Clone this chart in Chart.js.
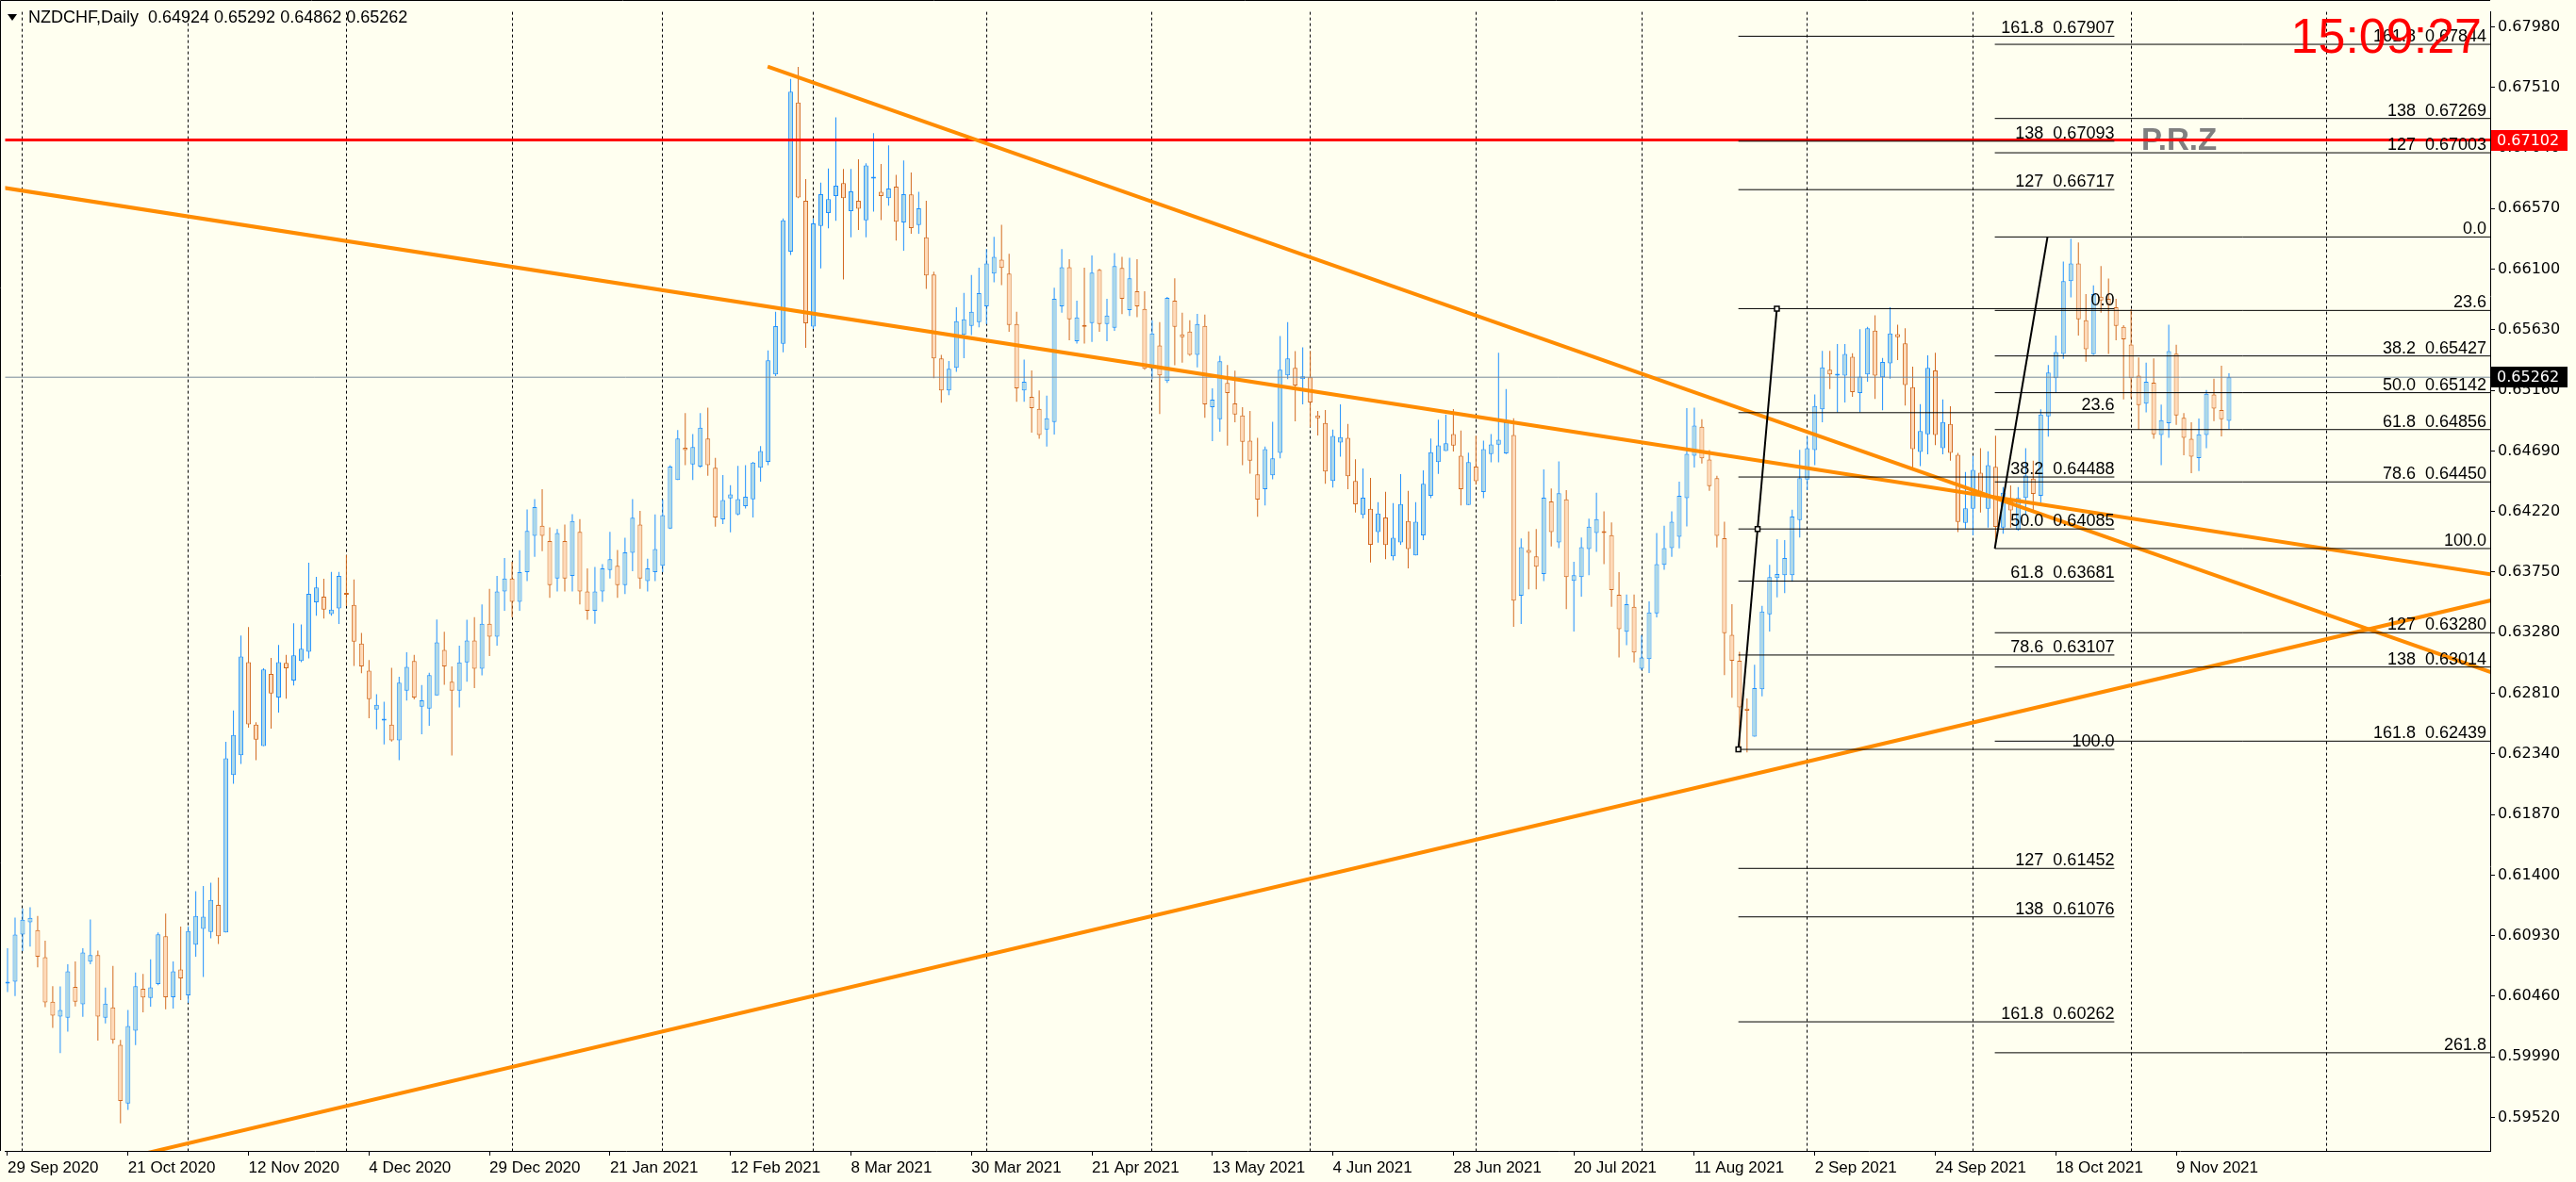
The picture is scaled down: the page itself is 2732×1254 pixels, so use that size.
<!DOCTYPE html>
<html>
<head>
<meta charset="utf-8">
<script src="https://cdn.jsdelivr.net/npm/chart.js@4.4.1/dist/chart.umd.min.js"></script>
<style>
html, body { margin: 0; padding: 0; background: #fffff0; }
#wrap { width: 2732px; height: 1254px; }
</style>
</head>
<body>
<div id="wrap"><canvas id="chart" width="2732" height="1254"></canvas></div>
<script>
// NZDCHF daily candles, bar 0 = 29 Sep 2020
var opens = [
  0.60559, 0.60574, 0.60938, 0.61033, 0.60973, 0.60764, 0.60418, 0.60303, 0.60294, 0.60533,
  0.60397, 0.60728, 0.60779, 0.60294, 0.60374, 0.60084, 0.59629, 0.60193, 0.60518, 0.60447,
  0.60554, 0.60926, 0.60453, 0.60669, 0.60468, 0.60861, 0.60982, 0.60959, 0.61169, 0.60955,
  0.62176, 0.62330, 0.63052, 0.62567, 0.62401, 0.62960, 0.62777, 0.63046, 0.62910, 0.63061,
  0.63132, 0.63516, 0.63560, 0.63424, 0.63468, 0.63590, 0.63495, 0.63196, 0.62986, 0.62685,
  0.62599, 0.62567, 0.62445, 0.62830, 0.63061, 0.62706, 0.62691, 0.62794, 0.63146, 0.62900,
  0.62830, 0.63050, 0.63220, 0.63000, 0.63350, 0.63250, 0.63600, 0.63700, 0.63520, 0.63750,
  0.64032, 0.64110, 0.63991, 0.63700, 0.63991, 0.63720, 0.64063, 0.63600, 0.63450, 0.63600,
  0.63766, 0.63799, 0.63650, 0.63900, 0.64120, 0.63680, 0.63750, 0.63800, 0.64089, 0.64464,
  0.64715, 0.64586, 0.64568, 0.64787, 0.64560, 0.64159, 0.64322, 0.64198, 0.64262, 0.64314,
  0.64560, 0.64606, 0.65284, 0.65522, 0.66236, 0.67392, 0.66631, 0.65654, 0.66435, 0.66536,
  0.66668, 0.66768, 0.66551, 0.66631, 0.66479, 0.66802, 0.66701, 0.66650, 0.66740, 0.66463,
  0.66680, 0.66442, 0.66348, 0.66058, 0.65407, 0.65160, 0.65334, 0.65590, 0.65660, 0.65689,
  0.65812, 0.66066, 0.66174, 0.66066, 0.65675, 0.65160, 0.65110, 0.65016, 0.64856, 0.64914,
  0.65812, 0.66116, 0.65542, 0.65660, 0.65682, 0.66095, 0.65675, 0.65646, 0.66109, 0.65783,
  0.65928, 0.65791, 0.65327, 0.65508, 0.65233, 0.65856, 0.65595, 0.65617, 0.65436, 0.65660,
  0.65030, 0.64936, 0.65218, 0.65059, 0.64965, 0.64769, 0.64509, 0.64393, 0.64501, 0.64675,
  0.65276, 0.65334, 0.65247, 0.65262, 0.64965, 0.64907, 0.64458, 0.64755, 0.64791, 0.64458,
  0.64195, 0.64242, 0.64061, 0.64174, 0.63872, 0.63980, 0.64146, 0.63880, 0.64035, 0.64342,
  0.64604, 0.64689, 0.64821, 0.64653, 0.64270, 0.64568, 0.64371, 0.64666, 0.64738, 0.64671,
  0.64813, 0.63567, 0.63921, 0.63872, 0.63735, 0.64299, 0.63980, 0.64314, 0.63683, 0.63712,
  0.63929, 0.64053, 0.64063, 0.64037, 0.63574, 0.63287, 0.63481, 0.63000, 0.63075, 0.63430,
  0.63807, 0.63936, 0.64024, 0.64324, 0.64653, 0.64878, 0.64624, 0.64480, 0.64014, 0.63264,
  0.63062, 0.62692, 0.62475, 0.62842, 0.63422, 0.63704, 0.63727, 0.63727, 0.64154, 0.64469,
  0.64697, 0.65013, 0.65320, 0.65274, 0.65274, 0.65421, 0.65139, 0.65284, 0.65624, 0.65262,
  0.65370, 0.65597, 0.65525, 0.65185, 0.64683, 0.64820, 0.65315, 0.64711, 0.64900, 0.64661,
  0.64132, 0.64241, 0.64521, 0.64241, 0.64567, 0.64096, 0.64301, 0.64077, 0.64325, 0.64475,
  0.64342, 0.64958, 0.65255, 0.65443, 0.66008, 0.66145, 0.65704, 0.65440, 0.65887, 0.65870,
  0.65805, 0.65653, 0.65515, 0.65274, 0.65057, 0.65219, 0.64813, 0.64905, 0.65445, 0.64948,
  0.64784, 0.64634, 0.64813, 0.65129, 0.65008, 0.64924
];
var highs = [
  0.60832, 0.61071, 0.61142, 0.61151, 0.61083, 0.60891, 0.60539, 0.60536, 0.60708, 0.60731,
  0.60832, 0.61056, 0.60814, 0.60527, 0.60696, 0.60122, 0.60353, 0.60645, 0.60634, 0.60746,
  0.60955, 0.61101, 0.60731, 0.61000, 0.61003, 0.61275, 0.61316, 0.61340, 0.61381, 0.62434,
  0.62677, 0.63259, 0.63324, 0.62585, 0.63004, 0.63084, 0.63185, 0.63108, 0.63353, 0.63344,
  0.63823, 0.63714, 0.63699, 0.63752, 0.63752, 0.63882, 0.63693, 0.63279, 0.63069, 0.62803,
  0.62744, 0.63007, 0.62939, 0.63128, 0.63108, 0.62874, 0.62969, 0.63383, 0.63288, 0.63019,
  0.63180, 0.63380, 0.63400, 0.63500, 0.63620, 0.63720, 0.63860, 0.63830, 0.63920, 0.64236,
  0.64317, 0.64394, 0.64097, 0.64084, 0.64120, 0.64200, 0.64161, 0.63780, 0.63790, 0.63812,
  0.64063, 0.63921, 0.64016, 0.64317, 0.64226, 0.63854, 0.64198, 0.64314, 0.64580, 0.64852,
  0.64984, 0.64821, 0.64984, 0.65025, 0.64637, 0.64503, 0.64425, 0.64575, 0.64580, 0.64606,
  0.64728, 0.65470, 0.65770, 0.66494, 0.67575, 0.67669, 0.66799, 0.66494, 0.66771, 0.66882,
  0.67278, 0.66877, 0.66877, 0.66952, 0.66921, 0.67156, 0.66916, 0.67061, 0.66831, 0.66944,
  0.66850, 0.66700, 0.66631, 0.66080, 0.65436, 0.65387, 0.65805, 0.65916, 0.66054, 0.66112,
  0.66256, 0.66351, 0.66445, 0.66220, 0.65769, 0.65399, 0.65315, 0.65160, 0.65119, 0.65957,
  0.66256, 0.66177, 0.65856, 0.66112, 0.66206, 0.66102, 0.65870, 0.66225, 0.66196, 0.66189,
  0.66177, 0.65928, 0.65704, 0.65689, 0.65885, 0.66029, 0.65762, 0.65704, 0.65754, 0.65747,
  0.65175, 0.65428, 0.65356, 0.65312, 0.65030, 0.65001, 0.64791, 0.64724, 0.64917, 0.65581,
  0.65689, 0.65465, 0.65494, 0.65465, 0.65001, 0.65008, 0.64856, 0.65052, 0.64900, 0.64625,
  0.64555, 0.64482, 0.64293, 0.64374, 0.64286, 0.64511, 0.64381, 0.64293, 0.64539, 0.64787,
  0.64932, 0.64971, 0.65015, 0.64849, 0.64676, 0.64808, 0.64769, 0.64821, 0.65452, 0.65170,
  0.64943, 0.64011, 0.64066, 0.64084, 0.64547, 0.64399, 0.64609, 0.64386, 0.63830, 0.64019,
  0.64164, 0.64366, 0.64221, 0.64136, 0.63750, 0.63577, 0.63577, 0.63261, 0.63523, 0.64053,
  0.64110, 0.64221, 0.64451, 0.65023, 0.65025, 0.64937, 0.64697, 0.64498, 0.64141, 0.63502,
  0.63132, 0.62770, 0.63031, 0.63489, 0.63807, 0.64006, 0.63999, 0.64234, 0.64699, 0.64803,
  0.65129, 0.65467, 0.65467, 0.65520, 0.65520, 0.65448, 0.65634, 0.65653, 0.65742, 0.65412,
  0.65805, 0.65670, 0.65641, 0.65344, 0.65054, 0.65431, 0.65452, 0.65090, 0.65037, 0.64675,
  0.64526, 0.64651, 0.64711, 0.64687, 0.64808, 0.64410, 0.64422, 0.64410, 0.64711, 0.64615,
  0.65013, 0.65356, 0.65585, 0.66160, 0.66336, 0.66307, 0.65906, 0.65974, 0.66124, 0.66027,
  0.65870, 0.65665, 0.65790, 0.65416, 0.65375, 0.65407, 0.65049, 0.65670, 0.65513, 0.64984,
  0.64912, 0.64941, 0.65163, 0.65250, 0.65351, 0.65292
];
var lows = [
  0.60492, 0.60462, 0.60811, 0.60846, 0.60684, 0.60376, 0.60214, 0.60019, 0.60185, 0.60382,
  0.60300, 0.60708, 0.60116, 0.60250, 0.60093, 0.59475, 0.59578, 0.60081, 0.60335, 0.60379,
  0.60545, 0.60359, 0.60365, 0.60430, 0.60409, 0.60766, 0.60610, 0.60909, 0.60866, 0.60955,
  0.62108, 0.62262, 0.62543, 0.62292, 0.62401, 0.62537, 0.62661, 0.62768, 0.62871, 0.63052,
  0.63081, 0.63412, 0.63389, 0.63412, 0.63348, 0.63486, 0.63022, 0.62966, 0.62617, 0.62531,
  0.62413, 0.62436, 0.62292, 0.62753, 0.62762, 0.62493, 0.62558, 0.62794, 0.62877, 0.62327,
  0.62700, 0.62900, 0.62850, 0.62950, 0.63100, 0.63180, 0.63450, 0.63400, 0.63450, 0.63680,
  0.63869, 0.63913, 0.63550, 0.63600, 0.63600, 0.63600, 0.63500, 0.63380, 0.63350, 0.63520,
  0.63700, 0.63550, 0.63580, 0.63758, 0.63620, 0.63600, 0.63680, 0.63750, 0.64084, 0.64464,
  0.64580, 0.64464, 0.64560, 0.64498, 0.64102, 0.64123, 0.64058, 0.64190, 0.64244, 0.64174,
  0.64451, 0.64580, 0.65271, 0.65455, 0.66210, 0.66650, 0.65491, 0.65636, 0.66106, 0.66417,
  0.66476, 0.66021, 0.66347, 0.66404, 0.66347, 0.66546, 0.66481, 0.66593, 0.66321, 0.66243,
  0.66375, 0.66375, 0.65947, 0.65255, 0.65064, 0.65122, 0.65303, 0.65409, 0.65588, 0.65650,
  0.65672, 0.65998, 0.65976, 0.65614, 0.65071, 0.65071, 0.64832, 0.64784, 0.64724, 0.64818,
  0.65762, 0.65549, 0.65523, 0.65523, 0.65535, 0.65614, 0.65542, 0.65622, 0.65752, 0.65737,
  0.65728, 0.65320, 0.65247, 0.64977, 0.65218, 0.65354, 0.65375, 0.65428, 0.65339, 0.64948,
  0.64767, 0.64839, 0.64731, 0.64912, 0.64579, 0.64514, 0.64180, 0.64267, 0.64470, 0.64632,
  0.65247, 0.64919, 0.65052, 0.64876, 0.64810, 0.64436, 0.64407, 0.64646, 0.64393, 0.64212,
  0.64167, 0.63825, 0.63978, 0.63851, 0.63841, 0.63962, 0.63779, 0.63880, 0.63999, 0.64324,
  0.64513, 0.64689, 0.64686, 0.64267, 0.64270, 0.64428, 0.64324, 0.64601, 0.64601, 0.64666,
  0.63326, 0.63347, 0.63616, 0.63616, 0.63680, 0.63949, 0.63937, 0.63463, 0.63290, 0.63559,
  0.63727, 0.63908, 0.63812, 0.63481, 0.63088, 0.63184, 0.63049, 0.62990, 0.62967, 0.63399,
  0.63768, 0.63869, 0.63934, 0.64105, 0.64562, 0.64593, 0.64381, 0.63942, 0.62951, 0.62775,
  0.62377, 0.62351, 0.62475, 0.62786, 0.63290, 0.63554, 0.63587, 0.63675, 0.64019, 0.64386,
  0.64580, 0.64912, 0.65170, 0.64989, 0.65066, 0.65110, 0.64989, 0.65226, 0.65093, 0.65006,
  0.65250, 0.65395, 0.65042, 0.64555, 0.64572, 0.64663, 0.64735, 0.64663, 0.64615, 0.64060,
  0.64089, 0.64036, 0.64212, 0.64096, 0.63951, 0.64048, 0.64096, 0.64072, 0.64193, 0.64217,
  0.64289, 0.64801, 0.65139, 0.65404, 0.65882, 0.65585, 0.65383, 0.65436, 0.65762, 0.65443,
  0.65549, 0.65090, 0.65098, 0.64856, 0.64989, 0.64784, 0.64579, 0.64791, 0.64893, 0.64656,
  0.64518, 0.64535, 0.64711, 0.64922, 0.64803, 0.64862
];
var closes = [
  0.60574, 0.60938, 0.61053, 0.61068, 0.60766, 0.60412, 0.60309, 0.60353, 0.60654, 0.60418,
  0.60799, 0.60779, 0.60303, 0.60403, 0.60122, 0.59649, 0.60229, 0.60539, 0.60450, 0.60530,
  0.60941, 0.60453, 0.60654, 0.60598, 0.60967, 0.61083, 0.61077, 0.61207, 0.60926, 0.62306,
  0.62487, 0.63096, 0.62570, 0.62451, 0.62995, 0.62809, 0.63052, 0.63004, 0.63105, 0.63155,
  0.63581, 0.63631, 0.63459, 0.63459, 0.63720, 0.63575, 0.63211, 0.63019, 0.62764, 0.62720,
  0.62608, 0.62445, 0.62892, 0.63016, 0.62777, 0.62756, 0.62951, 0.63205, 0.63019, 0.62830,
  0.63050, 0.63220, 0.63000, 0.63350, 0.63250, 0.63600, 0.63700, 0.63520, 0.63750, 0.64069,
  0.64255, 0.64032, 0.63650, 0.64053, 0.63700, 0.64146, 0.63600, 0.63450, 0.63600, 0.63779,
  0.63851, 0.63650, 0.63903, 0.64172, 0.63700, 0.63780, 0.63929, 0.64192, 0.64568, 0.64787,
  0.64697, 0.64720, 0.64870, 0.64580, 0.64174, 0.64309, 0.64353, 0.64317, 0.64335, 0.64599,
  0.64689, 0.65393, 0.65659, 0.66479, 0.67477, 0.66657, 0.65680, 0.66456, 0.66681, 0.66644,
  0.66748, 0.66650, 0.66704, 0.66569, 0.66905, 0.66815, 0.66668, 0.66725, 0.66468, 0.66681,
  0.66418, 0.66573, 0.66051, 0.65407, 0.65160, 0.65327, 0.65696, 0.65711, 0.65769, 0.65914,
  0.66145, 0.66196, 0.66109, 0.65667, 0.65175, 0.65226, 0.65023, 0.64813, 0.64943, 0.65870,
  0.66116, 0.65711, 0.65725, 0.65653, 0.66073, 0.65675, 0.65740, 0.66124, 0.65870, 0.66029,
  0.65812, 0.65327, 0.65602, 0.65276, 0.65877, 0.65653, 0.65573, 0.65436, 0.65675, 0.65052,
  0.65088, 0.65385, 0.65139, 0.64972, 0.64760, 0.64615, 0.64313, 0.64704, 0.64632, 0.65320,
  0.65407, 0.65197, 0.65269, 0.65066, 0.64943, 0.64530, 0.64806, 0.64798, 0.64494, 0.64277,
  0.64327, 0.63962, 0.64205, 0.63960, 0.64017, 0.64278, 0.63929, 0.64141, 0.64436, 0.64681,
  0.64733, 0.64749, 0.64731, 0.64394, 0.64604, 0.64456, 0.64704, 0.64741, 0.64777, 0.64912,
  0.63528, 0.63944, 0.63900, 0.63792, 0.64327, 0.64061, 0.64363, 0.63712, 0.63727, 0.63944,
  0.64102, 0.64161, 0.64053, 0.63611, 0.63308, 0.63502, 0.63127, 0.63088, 0.63437, 0.63812,
  0.63936, 0.64141, 0.64342, 0.64668, 0.64886, 0.64632, 0.64418, 0.64032, 0.63277, 0.63062,
  0.62700, 0.62676, 0.62850, 0.63445, 0.63712, 0.63735, 0.63859, 0.64182, 0.64480, 0.64712,
  0.65038, 0.65339, 0.65284, 0.65281, 0.65443, 0.65146, 0.65267, 0.65641, 0.65274, 0.65380,
  0.65602, 0.65573, 0.65202, 0.64704, 0.64844, 0.65334, 0.64813, 0.64914, 0.64675, 0.64139,
  0.64246, 0.64543, 0.64374, 0.64579, 0.64101, 0.64366, 0.64229, 0.64325, 0.64499, 0.64357,
  0.64972, 0.65298, 0.65457, 0.66008, 0.66145, 0.65711, 0.65479, 0.65906, 0.65858, 0.65822,
  0.65660, 0.65556, 0.65255, 0.65045, 0.65226, 0.64820, 0.64929, 0.65465, 0.64965, 0.64791,
  0.64646, 0.64820, 0.65134, 0.65018, 0.64936, 0.65262
];

var priceTicks = [0.6798, 0.6751, 0.6704, 0.6657, 0.6610, 0.6563, 0.6516, 0.6469, 0.6422, 0.6375,
  0.6328, 0.6281, 0.6234, 0.6187, 0.6140, 0.6093, 0.6046, 0.5999, 0.5952];
var dateIdx = [0, 16, 32, 48, 64, 80, 96, 112, 128, 144, 160, 176, 192, 208, 224, 240, 256, 272, 288];
var dateLabels = ['29 Sep 2020', '21 Oct 2020', '12 Nov 2020', '4 Dec 2020', '29 Dec 2020', '21 Jan 2021',
  '12 Feb 2021', '8 Mar 2021', '30 Mar 2021', '21 Apr 2021', '13 May 2021', '4 Jun 2021', '28 Jun 2021',
  '20 Jul 2021', '11 Aug 2021', '2 Sep 2021', '24 Sep 2021', '18 Oct 2021', '9 Nov 2021'];
var monthGridIdx = [2, 24, 45, 67, 87, 107, 130, 152, 173, 195, 217, 239, 261, 282, 308];

// hand drawn objects (bar index, price)
var trendA = [{ x: -1, y: 0.66736 }, { x: 331, y: 0.63721 }];
var trendB = [{ x: 100.94, y: 0.67672 }, { x: 331, y: 0.62949 }];
var trendC = [{ x: 10, y: 0.59127 }, { x: 331, y: 0.63548 }];
var przLevel = 0.67102;
var bidPrice = 0.65262;

var fib1Anchor = [{ x: 229.85, y: 0.62375 }, { x: 232.4, y: 0.640845 }, { x: 234.96, y: 0.65794 }];
var fib1Span = [229.85, 279.78];
var fib1Prices = [0.67907, 0.67093, 0.66717, 0.65794, 0.64987, 0.64488, 0.64085, 0.63681, 0.63107, 0.62375, 0.61452, 0.61076, 0.60262];
var fib1Text = ['161.8  0.67907', '138  0.67093', '127  0.66717', '0.0', '23.6', '38.2  0.64488', '50.0  0.64085',
  '61.8  0.63681', '78.6  0.63107', '100.0', '127  0.61452', '138  0.61076', '161.8  0.60262'];

var fib2Anchor = [{ x: 263.9, y: 0.63933 }, { x: 270.9, y: 0.66350 }];
var fib2Span = [263.9, 331];
var fib2Prices = [0.67844, 0.67269, 0.67003, 0.66350, 0.65780, 0.65427, 0.65142, 0.64856, 0.64450, 0.63933, 0.63280, 0.63014, 0.62439, 0.60022];
var fib2Text = ['161.8  0.67844', '138  0.67269', '127  0.67003', '0.0', '23.6', '38.2  0.65427', '50.0  0.65142',
  '61.8  0.64856', '78.6  0.64450', '100.0', '127  0.63280', '138  0.63014', '161.8  0.62439', '261.8'];

var bull = '#1e90ff', bullFill = '#add8e6', bear = '#d2691e', bearFill = '#ffdab9';
var orange = '#ff8c00';

function isBull(i) { return closes[i] >= opens[i]; }

function levelPoints(prices, span) {
  var pts = [];
  prices.forEach(function(p) {
    pts.push({ x: span[0], y: p }, { x: span[1], y: p }, { x: span[1], y: null });
  });
  return pts;
}

var bodies = opens.map(function(o, i) { return { x: i, y: [o, closes[i]] }; });
var wicks = opens.map(function(o, i) { return { x: i, y: [lows[i], highs[i]] }; });

function lineSet(data, color, width, order) {
  return { type: 'line', data: data, borderColor: color, borderWidth: width, pointRadius: 0,
    fill: false, spanGaps: false, clip: 0, order: order, tension: 0 };
}

var overlay = {
  id: 'overlay',
  beforeDraw: function(chart) {
    var ctx = chart.ctx;
    ctx.save();
    ctx.fillStyle = '#fffff0';
    ctx.fillRect(0, 0, chart.width, chart.height);
    ctx.restore();
  },
  beforeDatasetsDraw: function(chart) {
    var ctx = chart.ctx, ys = chart.scales.y;
    ctx.save();
    ctx.font = 'bold 33px "Liberation Sans"';
    ctx.fillStyle = '#808080';
    ctx.textAlign = 'left';
    ctx.textBaseline = 'alphabetic';
    ctx.fillText('P.R.Z', 2271, ys.getPixelForValue(przLevel) + 10);
    ctx.restore();
  },
  afterDraw: function(chart) {
    var ctx = chart.ctx, a = chart.chartArea, xs = chart.scales.x, ys = chart.scales.y;
    ctx.save();
    // frame top / left
    ctx.strokeStyle = '#000';
    ctx.lineWidth = 1;
    ctx.beginPath();
    ctx.moveTo(0.5, a.bottom);
    ctx.lineTo(0.5, 0.5);
    ctx.lineTo(a.right, 0.5);
    ctx.stroke();

    // fibo level labels
    ctx.font = '18px "Liberation Sans"';
    ctx.fillStyle = '#000';
    ctx.textAlign = 'right';
    ctx.textBaseline = 'alphabetic';
    var r1 = xs.getPixelForValue(fib1Span[1]);
    fib1Prices.forEach(function(p, k) { ctx.fillText(fib1Text[k], r1, ys.getPixelForValue(p) - 3); });
    var r2 = a.right - 4;
    fib2Prices.forEach(function(p, k) { ctx.fillText(fib2Text[k], r2, ys.getPixelForValue(p) - 3); });

    // clock
    ctx.font = '52px "Liberation Sans"';
    ctx.fillStyle = '#ff0000';
    ctx.textAlign = 'right';
    ctx.fillText('15:09:27', 2632, 56);

    // header
    ctx.fillStyle = '#000';
    ctx.beginPath();
    ctx.moveTo(8, 15); ctx.lineTo(18, 15); ctx.lineTo(13, 22); ctx.closePath();
    ctx.fill();
    ctx.font = '18px "Liberation Sans"';
    ctx.textAlign = 'left';
    ctx.textBaseline = 'middle';
    ctx.fillText('NZDCHF,Daily  0.64924 0.65292 0.64862 0.65262', 30, 19);

    // price boxes on the axis
    ctx.font = '16px "DejaVu Sans"';
    [[przLevel, '#ff0000'], [bidPrice, '#000000']].forEach(function(b) {
      var y = Math.round(ys.getPixelForValue(b[0]));
      ctx.fillStyle = b[1];
      ctx.fillRect(a.right + 1, y - 11, 81, 22);
      ctx.fillStyle = '#ffffff';
      ctx.textAlign = 'left';
      ctx.textBaseline = 'middle';
      ctx.fillText(b[0].toFixed(5), a.right + 7, y + 1);
    });
    ctx.restore();
  }
};

var chart = new Chart(document.getElementById('chart').getContext('2d'), {
  type: 'bar',
  data: {
    datasets: [
      lineSet(levelPoints(fib1Prices, fib1Span), '#000', 1, 1),
      lineSet(levelPoints(fib2Prices, fib2Span), '#000', 1, 1),
      { type: 'line', data: fib1Anchor, borderColor: '#000', borderWidth: 2, pointRadius: 3.5,
        pointStyle: 'rect', pointBorderColor: '#000', pointBackgroundColor: '#fffff0', pointBorderWidth: 1.5,
        clip: 0, order: 0 },
      lineSet(fib2Anchor, '#000', 2, 0),
      lineSet(trendA, orange, 4, 2),
      lineSet(trendB, orange, 4, 2),
      lineSet(trendC, orange, 4, 2),
      lineSet([{ x: -1, y: przLevel }, { x: 331, y: przLevel }], '#ff0000', 3, 3),
      lineSet([{ x: -1, y: bidPrice }, { x: 331, y: bidPrice }], '#778899', 1, 4),
      {
        label: 'body', data: bodies, grouped: false, barThickness: 5, minBarLength: 2,
        borderWidth: 1, borderSkipped: false, inflateAmount: 0, order: 10,
        backgroundColor: function(c) { return isBull(c.dataIndex) ? bullFill : bearFill; },
        borderColor: function(c) { return isBull(c.dataIndex) ? bull : bear; }
      },
      {
        label: 'wick', data: wicks, grouped: false, barThickness: 1, borderWidth: 0,
        inflateAmount: 0, order: 11,
        backgroundColor: function(c) { return isBull(c.dataIndex) ? bull : bear; }
      }
    ]
  },
  options: {
    responsive: false, maintainAspectRatio: false, animation: false, devicePixelRatio: 1,
    layout: { padding: { left: 1, top: 1, right: 0, bottom: 0 } },
    plugins: { legend: { display: false }, tooltip: { enabled: false }, title: { display: false } },
    scales: {
      x: {
        type: 'linear', position: 'bottom', min: -0.3125, max: 329.6875, offset: false,
        afterBuildTicks: function(s) { s.ticks = dateIdx.map(function(v) { return { value: v }; }); },
        afterFit: function(s) { s.height = 33; },
        ticks: {
          autoSkip: false, maxRotation: 0, minRotation: 0, align: 'start', padding: 3, color: '#000',
          font: { family: 'Liberation Sans', size: 17 },
          callback: function(v) { var k = dateIdx.indexOf(v); return k >= 0 ? dateLabels[k] : ''; }
        },
        grid: { drawOnChartArea: false, drawTicks: true, tickLength: 5, color: '#000', offset: false },
        border: { display: true, color: '#000', width: 1 }
      },
      xg: {
        type: 'linear', position: 'bottom', min: -0.3125, max: 329.6875, offset: false,
        afterBuildTicks: function(s) { s.ticks = monthGridIdx.map(function(v) { return { value: v }; }); },
        afterFit: function(s) { s.height = 0; },
        ticks: { display: false },
        grid: { drawOnChartArea: true, drawTicks: false, color: '#000', lineWidth: 1, offset: false },
        border: { display: false, dash: [3, 3] }
      },
      y: {
        type: 'linear', position: 'right', min: 0.592607, max: 0.680959,
        afterBuildTicks: function(s) { s.ticks = priceTicks.map(function(v) { return { value: v }; }); },
        afterFit: function(s) { s.width = 91; },
        ticks: {
          padding: 3, color: '#000', font: { family: 'DejaVu Sans', size: 16 },
          callback: function(v) { return v.toFixed(5); }
        },
        grid: { drawOnChartArea: false, drawTicks: true, tickLength: 5, color: '#000' },
        border: { display: true, color: '#000', width: 1 }
      }
    }
  },
  plugins: [overlay]
});
</script>
</body>
</html>
